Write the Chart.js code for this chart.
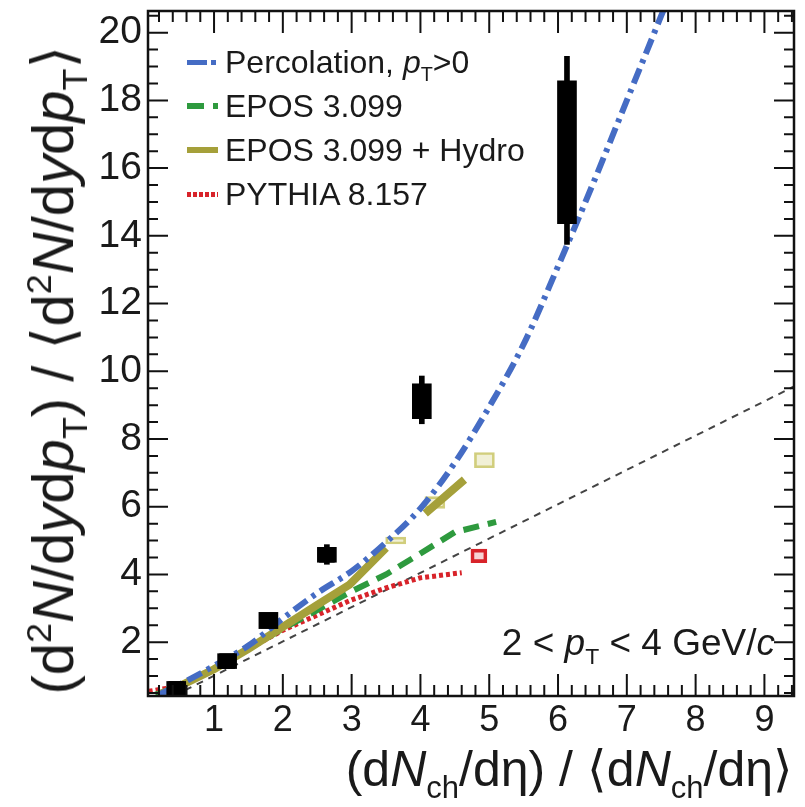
<!DOCTYPE html>
<html>
<head>
<meta charset="utf-8">
<script src="https://cdn.jsdelivr.net/npm/chart.js@4.4.0/dist/chart.umd.min.js"></script>
<style>
  html, body { margin: 0; padding: 0; background: #fff; }
  #wrap { position: relative; width: 805px; height: 807px; overflow: hidden;
          font-family: 'Liberation Sans', Arial, Helvetica, sans-serif; color: #1a1a1a; }
  #chart { position: absolute; left: 0; top: 0; }
  .lbl { position: absolute; white-space: nowrap; line-height: 1; z-index: 2; }
  .lbl sub { font-size: 0.62em; vertical-align: -0.4em; line-height: 0; }
  .lbl sup { font-size: 0.62em; vertical-align: 0.6em; line-height: 0; }
  #ytitle { font-size: 58px; left: 53px; top: 370px; transform: translate(-50%, -50%) rotate(-90deg); }
  #xtitle { font-size: 50px; right: 12px; top: 744px; }
  #note { font-size: 37px; right: 30px; top: 624px; }
  #legend { left: 187px; top: 40px; font-size: 32px; }
  #legend .row { display: flex; align-items: center; height: 44px; }
  #legend .sw { display: inline-block; width: 31px; margin-right: 7px; }
  .sw.perc  { height: 5px; background: repeating-linear-gradient(to right, #456cc4 0 20px, transparent 20px 24px, #456cc4 24px 29px, transparent 29px 31px); }
  .sw.epos  { height: 6px; background: repeating-linear-gradient(to right, #2e9a3e 0 17px, transparent 17px 26px, #2e9a3e 26px 31px); }
  .sw.hydro { height: 6px; background: #a5a03a; }
  .sw.pyth  { height: 5px; background: repeating-linear-gradient(to right, #d8232a 0 4px, transparent 4px 6px); }
</style>
</head>
<body>
<div id="wrap">
  <canvas id="chart" width="805" height="807"></canvas>
  <div class="lbl" id="ytitle">(d<sup>2</sup><i>N</i>/d<i>y</i>d<i>p</i><sub>T</sub>) / ⟨d<sup>2</sup><i>N</i>/d<i>y</i>d<i>p</i><sub>T</sub>⟩</div>
  <div class="lbl" id="xtitle">(d<i>N</i><sub>ch</sub>/dη) / ⟨d<i>N</i><sub>ch</sub>/dη⟩</div>
  <div class="lbl" id="note">2 &lt; <i>p</i><sub>T</sub> &lt; 4 GeV/<i>c</i></div>
  <div class="lbl" id="legend">
    <div class="row"><span class="sw perc"></span><span>Percolation, <i>p</i><sub>T</sub>&gt;0</span></div>
    <div class="row"><span class="sw epos"></span><span>EPOS 3.099</span></div>
    <div class="row"><span class="sw hydro"></span><span>EPOS 3.099 + Hydro</span></div>
    <div class="row"><span class="sw pyth"></span><span>PYTHIA 8.157</span></div>
  </div>
</div>
<script>
// measured points
const dataX    = [0.45, 1.19, 1.79, 2.64, 4.02, 6.13];
const dataY    = [0.62, 1.44, 2.64, 4.58, 9.16, 16.5];
const statLow  = [0.45, 1.28, 2.46, 4.30, 8.45, 13.75];
const statHigh = [0.80, 1.60, 2.82, 4.88, 9.86, 19.30];
const sysLow   = [0.40, 1.22, 2.40, 4.36, 8.60, 14.36];
const sysHigh  = [0.84, 1.66, 2.88, 4.80, 9.63, 18.58];

// percolation, pT>0
const percX = [0.2, 0.5, 1, 1.5, 2, 2.5, 3, 3.5, 4, 4.5, 5, 5.5, 6, 6.5, 7, 7.6];
const percY = [0.45, 0.75, 1.3, 1.9, 2.7, 3.45, 4.1, 4.95, 5.95, 7.3, 8.95, 10.8, 13.1, 15.5, 18.0, 21.0];

// EPOS 3.099
const eposX = [0.15, 0.5, 1, 1.5, 2, 2.5, 3, 3.5, 4, 4.5, 5.1];
const eposY = [0.45, 0.7, 1.2, 1.8, 2.4, 2.95, 3.5, 4.0, 4.62, 5.25, 5.55];

// EPOS 3.099 + Hydro (line has a break between 3.5 and 4.07)
const hydroX = [0.2, 0.5, 1, 1.5, 2, 2.5, 2.97, 3.5, 3.8, 4.07, 4.64];
const hydroY = [0.45, 0.7, 1.2, 1.8, 2.45, 3.1, 3.7, 4.78, null, 5.8, 6.8];
const hydroPtX    = [3.64, 4.21, 4.93];
const hydroPtLow  = [4.90, 5.95, 7.15];
const hydroPtHigh = [5.10, 6.30, 7.60];

// PYTHIA 8.157
const pythX = [0.05, 0.5, 1, 1.5, 2, 2.5, 3, 3.5, 4, 4.6];
const pythY = [0.55, 0.7, 1.2, 1.8, 2.35, 2.8, 3.25, 3.6, 3.9, 4.05];
const pythPtX    = [4.85];
const pythPtLow  = [4.35];
const pythPtHigh = [4.75];

// y = x reference (thin dashed)
const diagX = [0.41, 9.43];
const diagY = [0.41, 9.55];

const xTickLabels = [1, 2, 3, 4, 5, 6, 7, 8, 9];
const yTickLabels = [2, 4, 6, 8, 10, 12, 14, 16, 18, 20];

const fontFam = "'Liberation Sans', Arial, Helvetica, sans-serif";
const pts = (xs, ys) => xs.map((x, i) => ({ x: x, y: ys[i] }));
const rng = (xs, lo, hi) => xs.map((x, i) => ({ x: x, y: [lo[i], hi[i]] }));
const noClip = { left: 0, top: 0, right: 0, bottom: 0 };

// frame on all four sides with inward ticks
const frameTicks = {
  id: 'frameTicks',
  afterDraw(chart) {
    const { ctx, chartArea: a, scales: { x, y } } = chart;
    ctx.save();
    ctx.strokeStyle = '#111';
    ctx.lineWidth = 2;
    ctx.beginPath();
    for (let i = 1; i * 0.2 < x.max; i++) {
      const v = i * 0.2;
      const len = i % 5 === 0 ? 22 : 11;
      const px = x.getPixelForValue(v);
      ctx.moveTo(px, a.bottom); ctx.lineTo(px, a.bottom - len);
      ctx.moveTo(px, a.top); ctx.lineTo(px, a.top + len);
    }
    for (let i = 1; i * 0.5 < y.max; i++) {
      const v = i * 0.5;
      const len = i % 4 === 0 ? 20 : 10;
      const py = y.getPixelForValue(v);
      ctx.moveTo(a.left, py); ctx.lineTo(a.left + len, py);
      ctx.moveTo(a.right, py); ctx.lineTo(a.right - len, py);
    }
    ctx.stroke();
    ctx.lineWidth = 2.5;
    ctx.strokeRect(a.left, a.top, a.right - a.left, a.bottom - a.top);
    ctx.restore();
  }
};

new Chart(document.getElementById('chart'), {
  type: 'scatter',
  data: {
    datasets: [
      {
        label: 'data',
        data: pts(dataX, dataY),
        pointStyle: 'rect',
        pointRadius: 11,
        backgroundColor: '#000',
        borderWidth: 0,
        clip: noClip,
        order: 0
      },
      {
        type: 'bar',
        label: 'stat',
        data: rng(dataX, statLow, statHigh),
        backgroundColor: '#000',
        barThickness: 5,
        grouped: false,
        clip: noClip,
        order: 1
      },
      {
        type: 'bar',
        label: 'sys',
        data: rng(dataX, sysLow, sysHigh),
        backgroundColor: '#000',
        barThickness: 19,
        grouped: false,
        clip: noClip,
        order: 2
      },
      {
        type: 'line',
        label: 'Percolation, pT>0',
        data: pts(percX, percY),
        borderColor: '#456cc4',
        borderWidth: 6,
        borderDash: [16, 6, 4, 6],
        cubicInterpolationMode: 'monotone',
        pointRadius: 0,
        fill: false,
        clip: noClip,
        order: 3
      },
      {
        type: 'line',
        label: 'EPOS 3.099 + Hydro',
        data: pts(hydroX, hydroY),
        borderColor: '#a5a03a',
        borderWidth: 8,
        spanGaps: false,
        pointRadius: 0,
        fill: false,
        clip: noClip,
        order: 4
      },
      {
        type: 'bar',
        label: 'EPOS 3.099 + Hydro points',
        data: rng(hydroPtX, hydroPtLow, hydroPtHigh),
        backgroundColor: 'rgba(200,195,90,0.25)',
        borderColor: 'rgba(190,185,70,0.7)',
        borderWidth: 2,
        borderSkipped: false,
        barThickness: 20,
        grouped: false,
        order: 4
      },
      {
        type: 'line',
        label: 'EPOS 3.099',
        data: pts(eposX, eposY),
        borderColor: '#2e9a3e',
        borderWidth: 6,
        borderDash: [16, 9],
        pointRadius: 0,
        fill: false,
        clip: noClip,
        order: 5
      },
      {
        type: 'line',
        label: 'PYTHIA 8.157',
        data: pts(pythX, pythY),
        borderColor: '#d8232a',
        borderWidth: 5,
        borderDash: [4, 3],
        pointRadius: 0,
        fill: false,
        clip: noClip,
        order: 6
      },
      {
        type: 'bar',
        label: 'PYTHIA 8.157 points',
        data: rng(pythPtX, pythPtLow, pythPtHigh),
        backgroundColor: 'rgba(216,35,42,0.2)',
        borderColor: '#d8232a',
        borderWidth: 3,
        borderSkipped: false,
        barThickness: 16,
        grouped: false,
        order: 6
      },
      {
        type: 'line',
        label: 'y = x',
        data: pts(diagX, diagY),
        borderColor: '#444',
        borderWidth: 2,
        borderDash: [7, 6],
        pointRadius: 0,
        fill: false,
        order: 7
      }
    ]
  },
  options: {
    responsive: false,
    animation: false,
    layout: { padding: { top: 7, right: 0, left: 0, bottom: 0 } },
    plugins: { legend: { display: false }, tooltip: { enabled: false } },
    scales: {
      x: {
        type: 'linear',
        min: 0.04,
        max: 9.43,
        offset: false,
        grid: { display: false, drawTicks: false },
        border: { display: false },
        ticks: { font: { family: fontFam, size: 36 }, color: '#1a1a1a', padding: 3, autoSkip: false, maxRotation: 0 },
        afterBuildTicks: s => { s.ticks = xTickLabels.map(v => ({ value: v })); },
        afterFit: s => { s.height = 111; s.paddingLeft = 0; s.paddingRight = 0; }
      },
      y: {
        type: 'linear',
        min: 0.41,
        max: 20.64,
        grid: { display: false, drawTicks: false },
        border: { display: false },
        ticks: { font: { family: fontFam, size: 39 }, color: '#1a1a1a', padding: 6, autoSkip: false },
        afterBuildTicks: s => { s.ticks = yTickLabels.map(v => ({ value: v })); },
        afterFit: s => { s.width = 148; s.paddingTop = 0; s.paddingBottom = 0; }
      }
    }
  },
  plugins: [frameTicks]
});
</script>
</body>
</html>
